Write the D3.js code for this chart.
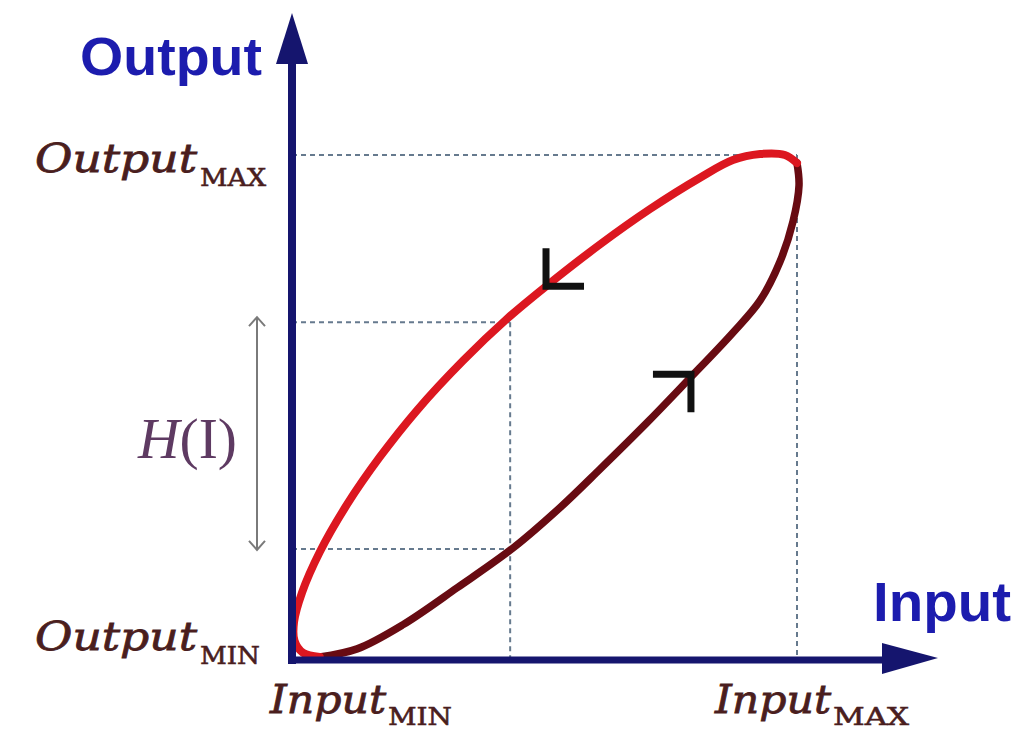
<!DOCTYPE html>
<html>
<head>
<meta charset="utf-8">
<script src="https://cdn.jsdelivr.net/npm/d3@7"></script>
<style>
  html, body { margin: 0; padding: 0; background: #fff; }
  svg { display: block; }
</style>
</head>
<body>
<div id="chart"></div>
<script>
// Hysteresis loop: both branches in normalised input/output units (0..1)
// Upper branch, travelled from max back to min
const upperBranch = [
  [1.000, 0.984], [0.976, 1.000], [0.927, 1.002], [0.873, 0.990], [0.808, 0.955],
  [0.709, 0.893], [0.610, 0.823], [0.503, 0.740], [0.425, 0.675], [0.339, 0.593],
  [0.248, 0.495], [0.174, 0.402], [0.109, 0.308], [0.055, 0.214], [0.020, 0.134],
  [0.004, 0.075], [0.005, 0.038], [0.022, 0.014], [0.055, 0.006]
];
// Lower branch, travelled from min up to max
const lowerBranch = [
  [0.055, 0.006], [0.129, 0.022], [0.220, 0.070], [0.327, 0.143], [0.438, 0.222],
  [0.531, 0.302], [0.610, 0.378], [0.703, 0.470], [0.782, 0.552], [0.873, 0.648],
  [0.927, 0.712], [0.966, 0.788], [0.992, 0.868], [1.004, 0.940], [1.000, 0.984]
];

// Guide levels
const inputMax = 1;
const outputMax = 1;
const hInput = 0.432;
const hOutputs = [0.669, 0.220];

// Direction marks on the loop (heading in degrees, maths convention)
const arrowMarks = [
  { at: [0.503, 0.740], heading: 225 },
  { at: [0.790, 0.566], heading: 45 }
];

// Text
const axisNames = { x: "Input", y: "Output" };
const yTickLabels = [
  { value: 1, main: "Output", sub: "MAX" },
  { value: 0, main: "Output", sub: "MIN" }
];
const xTickLabels = [
  { value: 0, main: "Input", sub: "MIN" },
  { value: 1, main: "Input", sub: "MAX" }
];

const config = {
  width: 1011,
  height: 732,
  origin: [292, 660],
  extent: [797, 155],
  axisColor: "#15156e",
  titleColor: "#1c1cae",
  labelColor: "#4a1e1e",
  guideColor: "#667a8e",
  upperColor: "#dc1720",
  lowerColor: "#680b12",
  hColor: "#5e3a62"
};

const svg = d3.select("#chart").append("svg")
  .attr("width", config.width)
  .attr("height", config.height);

const x = d3.scaleLinear().domain([0, 1]).range([config.origin[0], config.extent[0]]);
const y = d3.scaleLinear().domain([0, 1]).range([config.origin[1], config.extent[1]]);

// Dashed guide lines
const guides = svg.append("g")
  .attr("stroke", config.guideColor)
  .attr("stroke-width", 2)
  .attr("stroke-dasharray", "5,4")
  .attr("fill", "none");

guides.append("line")
  .attr("x1", x(0)).attr("x2", x(inputMax))
  .attr("y1", y(outputMax)).attr("y2", y(outputMax));
guides.append("line")
  .attr("x1", x(inputMax)).attr("x2", x(inputMax))
  .attr("y1", y(outputMax)).attr("y2", y(0));
hOutputs.forEach(v => {
  guides.append("line")
    .attr("x1", x(0)).attr("x2", x(hInput))
    .attr("y1", y(v)).attr("y2", y(v));
});
guides.append("line")
  .attr("x1", x(hInput)).attr("x2", x(hInput))
  .attr("y1", y(d3.max(hOutputs))).attr("y2", y(0));

// Loop branches
const line = d3.line()
  .x(d => x(d[0]))
  .y(d => y(d[1]))
  .curve(d3.curveCatmullRom.alpha(0.5));

svg.append("path")
  .datum(lowerBranch)
  .attr("d", line)
  .attr("fill", "none")
  .attr("stroke", config.lowerColor)
  .attr("stroke-width", 7.5)
  .attr("stroke-linecap", "round");

svg.append("path")
  .datum(upperBranch)
  .attr("d", line)
  .attr("fill", "none")
  .attr("stroke", config.upperColor)
  .attr("stroke-width", 8)
  .attr("stroke-linecap", "round");

// Direction chevrons
const armLen = 38;
arrowMarks.forEach(m => {
  const vx = x(m.at[0]), vy = y(m.at[1]);
  const back = (m.heading + 180) * Math.PI / 180;
  const pts = [back - Math.PI / 4, back + Math.PI / 4].map(a => [
    vx + armLen * Math.cos(a), vy - armLen * Math.sin(a)
  ]);
  svg.append("path")
    .attr("d", `M${pts[0][0]},${pts[0][1]}L${vx},${vy}L${pts[1][0]},${pts[1][1]}`)
    .attr("fill", "none")
    .attr("stroke", "#111")
    .attr("stroke-width", 7)
    .attr("stroke-linejoin", "miter");
});

// Axes with arrow heads
const axes = svg.append("g").attr("fill", config.axisColor).attr("stroke", config.axisColor);
axes.append("line")
  .attr("x1", x(0)).attr("x2", x(0))
  .attr("y1", y(0) + 4).attr("y2", 50)
  .attr("stroke-width", 8);
axes.append("path")
  .attr("d", `M${x(0)},13L${x(0) + 16},64L${x(0) - 16},64Z`)
  .attr("stroke", "none");
axes.append("line")
  .attr("x1", x(0) - 4).attr("x2", 895)
  .attr("y1", y(0)).attr("y2", y(0))
  .attr("stroke-width", 7);
axes.append("path")
  .attr("d", `M938,${y(0) - 2}L882,${y(0) - 17}L882,${y(0) + 14}Z`)
  .attr("stroke", "none");

// Axis titles
svg.append("text")
  .attr("x", 80).attr("y", 75)
  .attr("textLength", 182).attr("lengthAdjust", "spacingAndGlyphs")
  .style("font-family", "'Liberation Sans', Arial, sans-serif")
  .style("font-weight", "bold")
  .style("font-size", "54px")
  .style("fill", config.titleColor)
  .text(axisNames.y);

svg.append("text")
  .attr("x", 873).attr("y", 621)
  .attr("textLength", 138).attr("lengthAdjust", "spacingAndGlyphs")
  .style("font-family", "'Liberation Sans', Arial, sans-serif")
  .style("font-weight", "bold")
  .style("font-size", "56px")
  .style("fill", config.titleColor)
  .text(axisNames.x);

// Tick labels (italic word + small-caps subscript)
function tickLabel(d, mainX, mainW, baseY, subX, subW, subY) {
  svg.append("text")
    .attr("x", mainX).attr("y", baseY)
    .attr("textLength", mainW).attr("lengthAdjust", "spacingAndGlyphs")
    .style("font-family", "'DejaVu Serif', serif")
    .style("font-style", "italic")
    .style("font-size", "40px")
    .style("fill", config.labelColor)
    .style("stroke", config.labelColor)
    .style("stroke-width", 0.8)
    .text(d.main);
  svg.append("text")
    .attr("x", subX).attr("y", subY)
    .attr("textLength", subW).attr("lengthAdjust", "spacingAndGlyphs")
    .style("font-family", "'DejaVu Serif', serif")
    .style("font-size", "25px")
    .style("fill", config.labelColor)
    .style("stroke", config.labelColor)
    .style("stroke-width", 0.6)
    .text(d.sub);
}

yTickLabels.forEach(d => {
  const by = y(d.value) + (d.value === 1 ? 17 : -10);
  const sw = d.sub === "MAX" ? 66 : 60;
  tickLabel(d, 35, 162, by, 200, sw, by + 14);
});
xTickLabels.forEach(d => {
  const shift = d.value === 1 ? 60 : 0;
  const cx = x(d.value) - shift;
  tickLabel(d, cx - 22, 116, 713, cx + 96, d.sub === "MAX" ? 76 : 64, 725);
});

// Hysteresis width H(I)
const hx = 257;
const hTop = y(hOutputs[0]) - 5, hBot = y(hOutputs[1]) + 1;
const hg = svg.append("g").attr("stroke", "#7a7a7a").attr("stroke-width", 2).attr("fill", "none");
hg.append("line").attr("x1", hx).attr("x2", hx).attr("y1", hTop).attr("y2", hBot);
hg.append("path").attr("d", `M${hx - 8},${hTop + 9}L${hx},${hTop}L${hx + 8},${hTop + 9}`);
hg.append("path").attr("d", `M${hx - 8},${hBot - 9}L${hx},${hBot}L${hx + 8},${hBot - 9}`);

const hText = svg.append("text")
  .attr("x", 138).attr("y", 458)
  .attr("textLength", 99).attr("lengthAdjust", "spacingAndGlyphs")
  .style("font-family", "'Liberation Serif', 'Times New Roman', serif")
  .style("font-size", "58px")
  .style("fill", config.hColor);
hText.append("tspan").style("font-style", "italic").text("H");
hText.append("tspan").text("(I)");
</script>
</body>
</html>
